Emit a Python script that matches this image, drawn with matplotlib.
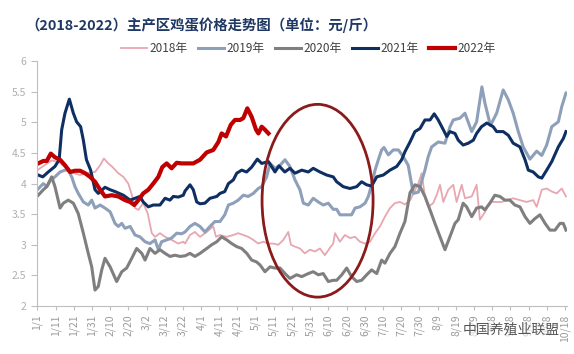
import matplotlib
matplotlib.use("Agg")
import matplotlib.pyplot as plt
from matplotlib.patches import Ellipse

plt.rcParams['font.family'] = ['Noto Sans CJK SC', 'DejaVu Sans']

# days counted from 1/1
tick_days = list(range(0, 291, 10))
tick_labels = ['1/1', '1/11', '1/21', '1/31', '2/10', '2/20', '3/2', '3/12', '3/22', '4/1',
               '4/11', '4/21', '5/1', '5/11', '5/21', '5/31', '6/10', '6/20', '6/30', '7/10',
               '7/20', '7/30', '8/9', '8/19', '8/29', '9/8', '9/18', '9/28', '10/8', '10/18']

days_2018 = [0, 4, 8, 12, 16, 18, 23.5, 27, 31.7, 34.5, 36.6, 39, 41, 44.5, 47.3, 50, 52, 53.7,
             55.5, 58.2, 60.7, 62.9, 64.7, 67.4, 70.2, 73.8, 77.5, 80.2, 81.2, 83.9, 86.6, 89.4,
             93.1, 96.7, 98.2, 100.4, 104.1, 107.7, 110.4, 113.2, 115.9, 118.7, 121.4, 124.2,
             127, 129.7, 132.4, 135.2, 137.9, 139.4, 141.6, 144.3, 147, 149.8, 152.6, 155.3,
             158, 160.8, 162.6, 163.6, 166.3, 169, 171.8, 174.6, 177.3, 180.1, 182.8, 185.6,
             188.3, 191, 193.8, 196.5, 199.3, 202, 204.9, 209.3, 211.2, 213, 214.8, 217.5,
             219.4, 221.3, 223.1, 225.8, 228.6, 230.4, 233.2, 235, 238.7, 241.4, 243.2, 245.9,
             248.7, 252.4, 255.1, 257.9, 261.5, 265.2, 268.8, 272.5, 274.4, 277.2, 279.9,
             282.7, 285.4, 288.2, 290.5]
price_2018 = [4.22, 4.30, 4.38, 4.35, 4.25, 4.19, 4.14, 4.17, 4.19, 4.30, 4.41, 4.33, 4.28,
              4.17, 4.11, 4.00, 3.81, 3.60, 3.57, 3.68, 3.51, 3.19, 3.13, 3.19, 3.13, 3.08,
              3.02, 3.05, 3.02, 3.16, 3.21, 3.13, 3.21, 3.30, 3.13, 3.16, 3.13, 3.16, 3.19,
              3.16, 3.13, 3.08, 3.02, 3.05, 3.02, 3.02, 3.00, 3.08, 3.21, 3.00, 2.97, 2.94,
              2.86, 2.92, 2.89, 2.94, 2.83, 2.95, 3.02, 3.19, 3.05, 3.16, 3.11, 3.13, 3.05,
              3.02, 3.05, 3.19, 3.30, 3.46, 3.60, 3.68, 3.70, 3.66, 3.73, 4.00, 4.17, 3.79,
              3.62, 3.68, 3.81, 3.98, 3.70, 3.90, 3.98, 3.70, 3.98, 3.76, 3.79, 3.98, 3.41,
              3.53, 3.70, 3.70, 3.70, 3.73, 3.76, 3.73, 3.70, 3.73, 3.62, 3.90, 3.92, 3.87,
              3.84, 3.92, 3.79]

days_2019 = [0, 3.3, 5.2, 7.4, 9.7, 12.5, 15.2, 17, 18.9, 20.7, 22.5, 25.3, 28, 29.9, 31.7,
             34.5, 37.2, 40, 42.7, 44.5, 46.4, 48.2, 51, 53.7, 56.4, 59.2, 61.9, 64.7, 66.5,
             68.3, 71.1, 73.8, 76.6, 79.3, 81.2, 83.9, 86.6, 89.4, 92.1, 94.9, 97.6, 100.4,
             103, 105, 107.7, 110.4, 113.2, 115.9, 118.7, 121.4, 123.3, 126, 127.9, 130.6,
             133.4, 136.1, 138.8, 141.6, 144.3, 146.2, 148.9, 151.6, 154.4, 157.1, 159.9,
             162.6, 164.5, 166.3, 170, 172.7, 174.6, 177.3, 180.1, 181.9, 183.7, 185.6, 187.4,
             189.2, 190.5, 192.9, 195.6, 198.4, 201.1, 203.8, 206.6, 209.4, 213, 214.8, 216.7,
             220.3, 224, 226.8, 228.6, 232.3, 235, 238.7, 241.4, 244.3, 246, 249, 252.4, 256,
             258.8, 261.5, 264.3, 267, 270.7, 274.4, 277.2, 279.9, 282.7, 286.3, 288.2, 290.5]
price_2019 = [3.90, 4.00, 3.95, 4.06, 4.11, 4.19, 4.22, 4.22, 4.11, 3.95, 3.84, 3.70, 3.65,
              3.73, 3.60, 3.65, 3.60, 3.54, 3.35, 3.30, 3.35, 3.27, 3.30, 3.16, 3.13, 3.05,
              3.02, 3.08, 2.92, 3.05, 3.08, 3.11, 3.19, 3.18, 3.21, 3.30, 3.35, 3.30, 3.21,
              3.30, 3.38, 3.38, 3.49, 3.65, 3.68, 3.73, 3.81, 3.79, 3.84, 3.92, 3.95, 4.11,
              4.33, 4.25, 4.30, 4.39, 4.28, 4.06, 3.90, 3.68, 3.65, 3.76, 3.70, 3.65, 3.68,
              3.58, 3.58, 3.49, 3.49, 3.49, 3.60, 3.62, 3.68, 3.79, 3.98, 4.22, 4.39, 4.55,
              4.59, 4.47, 4.55, 4.55, 4.44, 4.30, 3.84, 3.86, 4.22, 4.44, 4.60, 4.68, 4.66,
              4.93, 5.04, 5.07, 5.15, 4.85, 5.01, 5.58, 5.31, 4.95, 5.15, 5.53, 5.37, 5.15,
              4.85, 4.60, 4.40, 4.53, 4.46, 4.63, 4.93, 5.01, 5.26, 5.48]

days_2020 = [0.5, 3.3, 5.2, 7.9, 9.7, 12.5, 14.3, 17, 19.8, 22.5, 25.3, 28, 29.9, 31.7, 33.5,
             35.4, 37.2, 40, 43.6, 46.4, 49.1, 51.9, 54.6, 57.4, 59.2, 61.9, 64.7, 67.4, 70.2,
             72.9, 75.7, 78.4, 81.2, 83.9, 86.6, 89.4, 93.1, 95.8, 98.6, 101.3, 104.1, 106.8,
             109.6, 112.3, 115.1, 117.8, 120.5, 122.4, 125.1, 127.9, 130.6, 133.4, 136.1,
             138.8, 142.5, 145.3, 148.9, 151.6, 154.4, 157.1, 159.9, 162.6, 164.5, 167.3, 170,
             172.7, 175.5, 178.2, 181, 183.7, 186.5, 189.2, 191, 193.8, 196.5, 199.3, 202,
             204.8, 207.5, 210.3, 213, 215.8, 218.5, 221.3, 224, 226.7, 229.5, 231.3, 234,
             235.9, 238.7, 241.4, 244.1, 245.9, 248.7, 251.4, 254.2, 256.9, 259.7, 262.4,
             265.2, 268, 270.7, 273.5, 276.2, 279, 281.7, 284.5, 287.2, 289, 290.5]
price_2020 = [3.81, 3.90, 3.95, 4.11, 3.95, 3.60, 3.68, 3.73, 3.68, 3.51, 3.19, 2.86, 2.64,
              2.26, 2.32, 2.59, 2.78, 2.64, 2.40, 2.56, 2.62, 2.78, 2.94, 2.86, 2.75, 2.94,
              2.86, 2.92, 2.86, 2.81, 2.83, 2.81, 2.82, 2.86, 2.81, 2.86, 2.94, 3.00, 3.05,
              3.13, 3.08, 3.02, 2.97, 2.94, 2.86, 2.75, 2.72, 2.67, 2.56, 2.64, 2.62, 2.62,
              2.53, 2.45, 2.51, 2.48, 2.53, 2.56, 2.51, 2.53, 2.40, 2.42, 2.42, 2.51, 2.62,
              2.48, 2.40, 2.42, 2.51, 2.59, 2.53, 2.75, 2.70, 2.86, 2.97, 3.19, 3.38, 3.85,
              3.98, 3.95, 3.79, 3.57, 3.35, 3.13, 2.92, 3.13, 3.35, 3.41, 3.68, 3.62, 3.46,
              3.60, 3.62, 3.57, 3.68, 3.81, 3.79, 3.73, 3.73, 3.65, 3.62, 3.46, 3.35, 3.43,
              3.49, 3.35, 3.24, 3.24, 3.35, 3.35, 3.24]

days_2021 = [0.5, 3, 6, 9.7, 12, 13.4, 15.2, 17.6, 19.8, 21.6, 23.8, 25.3, 27, 29.3, 31.7,
             33.5, 37.2, 40, 42.7, 47.3, 51, 53.7, 56.4, 58.2, 61, 63.7, 67.4, 70.2, 72.9,
             74.7, 77.5, 80.2, 81.2, 83.9, 85.7, 87.6, 89.4, 92.1, 94.9, 98.6, 100.4, 103, 105,
             107.7, 109.6, 112.3, 115, 117.8, 120.9, 123.3, 127, 130.6, 132.8, 136, 138.8,
             141.6, 145.3, 148.9, 151.6, 155.3, 159, 162.6, 164.5, 168.1, 171.8, 175.5, 178.2,
             181, 183.7, 186.5, 190.1, 193.8, 197.5, 200.2, 202, 204.8, 207.5, 210.3, 213,
             215.8, 218.1, 220.3, 223.1, 225, 226.7, 229.5, 231.3, 234, 236.8, 239.6, 241.4,
             244.1, 247, 250.5, 252.4, 256, 258.8, 261.5, 265.2, 268, 269.8, 272.5, 275.3,
             277.2, 279.9, 282.7, 286.3, 289.1, 290.5]
price_2021 = [4.14, 4.11, 4.19, 4.28, 4.39, 4.88, 5.15, 5.38, 5.15, 5.01, 4.93, 4.71, 4.39,
              4.22, 3.90, 3.84, 3.94, 3.90, 3.87, 3.81, 3.73, 3.76, 3.79, 3.70, 3.62, 3.65,
              3.65, 3.76, 3.73, 3.79, 3.78, 3.81, 3.88, 3.98, 3.90, 3.70, 3.67, 3.68, 3.76,
              3.79, 3.84, 3.87, 4.00, 4.06, 4.17, 4.22, 4.19, 4.27, 4.40, 4.33, 4.36, 4.19,
              4.29, 4.19, 4.25, 4.17, 4.22, 4.19, 4.25, 4.19, 4.14, 4.11, 4.03, 3.95, 3.92,
              3.95, 4.03, 3.98, 3.96, 4.11, 4.14, 4.22, 4.28, 4.39, 4.52, 4.68, 4.85, 4.90,
              5.04, 5.04, 5.14, 5.04, 4.88, 4.77, 4.85, 4.82, 4.71, 4.63, 4.66, 4.71, 4.82,
              4.93, 4.99, 4.93, 4.85, 4.85, 4.79, 4.66, 4.60, 4.39, 4.22, 4.19, 4.11, 4.09,
              4.22, 4.36, 4.60, 4.74, 4.85]

days_2022 = [0.5, 3.3, 5.2, 7.4, 9.7, 12.5, 15.2, 18, 20.7, 23.5, 26.2, 29, 31.7, 34.5, 37.2,
             40.9, 44.5, 48.2, 51, 53.3, 55.5, 58.2, 61, 63.7, 66.5, 68.7, 71.1, 73.8, 76.6,
             79.3, 82, 85.7, 89.4, 93.1, 96.7, 99.5, 101.3, 103.7, 106.3, 108.6, 111.4, 113.2,
             115.4, 117.8, 120.2, 121.5, 123.3, 125.1, 127]
price_2022 = [4.33, 4.37, 4.37, 4.49, 4.43, 4.39, 4.30, 4.19, 4.21, 4.21, 4.17, 4.11, 4.03,
              3.90, 3.79, 3.81, 3.79, 3.73, 3.70, 3.65, 3.73, 3.84, 3.90, 4.00, 4.11, 4.27,
              4.33, 4.25, 4.34, 4.33, 4.33, 4.33, 4.39, 4.51, 4.55, 4.68, 4.82, 4.77, 4.96,
              5.04, 5.04, 5.07, 5.23, 5.09, 4.88, 4.82, 4.93, 4.88, 4.82]

# highlighted period (center day, center price, width in days, height in price)
circle_center = (154, 3.72)
circle_size = (61, 3.15)

fig = plt.figure(figsize=(5.74, 3.54), dpi=100)
ax = fig.add_axes([0.065, 0.1356, 0.9226, 0.6915])

ax.plot(days_2018, price_2018, color='#E8A6B0', lw=1.3, label='2018年')
ax.plot(days_2019, price_2019, color='#8E9FBA', lw=2.2, label='2019年')
ax.plot(days_2020, price_2020, color='#7F7F7F', lw=2.2, label='2020年')
ax.plot(days_2021, price_2021, color='#0F2F63', lw=2.2, label='2021年')
ax.plot(days_2022, price_2022, color='#C00000', lw=3.0, label='2022年')

ax.add_patch(Ellipse(circle_center, circle_size[0], circle_size[1], fill=False,
                     edgecolor='#8B1A1A', lw=2.0, zorder=5))

ax.set_xlim(0, 291)
ax.set_ylim(2, 6)
ax.set_yticks([2, 2.5, 3, 3.5, 4, 4.5, 5, 5.5, 6])
ax.set_yticklabels(['2', '2.5', '3', '3.5', '4', '4.5', '5', '5.5', '6'])
ax.set_xticks(tick_days)
ax.set_xticklabels(tick_labels, rotation=90)

for s in ['top', 'right']:
    ax.spines[s].set_visible(False)
for s in ['left', 'bottom']:
    ax.spines[s].set_color('#BFBFBF')
    ax.spines[s].set_linewidth(0.8)
ax.tick_params(axis='y', colors='#BFBFBF', labelcolor='#B0B0B0', labelsize=7.5,
               length=4, width=0.8, pad=4)
ax.tick_params(axis='x', colors='#BFBFBF', labelcolor='#9A9A9A', labelsize=7.5,
               length=3, width=0.8, pad=3)

fig.text(0.045, 0.929, '（2018-2022）主产区鸡蛋价格走势图（单位：元/斤）', fontsize=10.4,
         fontweight='bold', color='#1F3864', ha='left', va='center')

fig.legend(loc='center', bbox_to_anchor=(0.537, 0.862), ncol=5, frameon=False,
           fontsize=8.5, handlelength=2.2, handletextpad=0.2, columnspacing=0.9,
           labelcolor='#404040')

# source watermark, drawn over the tick labels like in the original image
fig.text(0.975, 0.07, '中国养殖业联盟', fontsize=10, color='#555555', ha='right',
         va='center', zorder=10,
         bbox=dict(facecolor='white', edgecolor='none', alpha=0.6, pad=0.5))

fig.savefig('out.png', dpi=100)
